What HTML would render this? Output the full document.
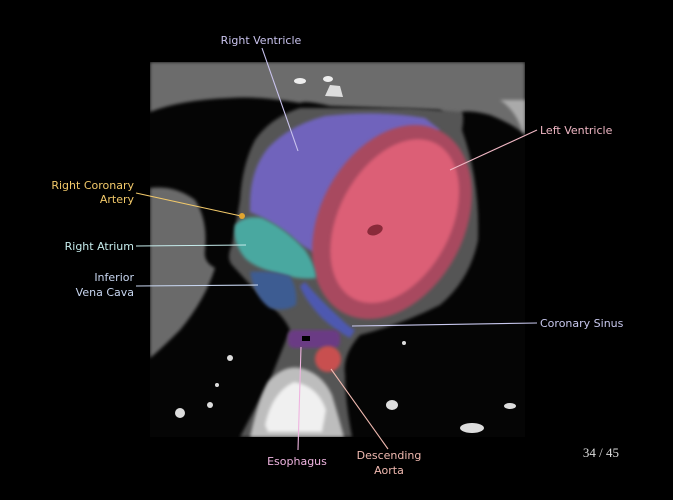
<!DOCTYPE html>
<html><head><meta charset="utf-8"><style>
html,body{margin:0;padding:0;background:#000;}
svg{display:block;}
text{font-family:"DejaVu Sans","Liberation Sans",sans-serif;font-size:11px;}
</style></head><body>
<svg width="673" height="500" viewBox="0 0 673 500" xmlns="http://www.w3.org/2000/svg">
<defs>
<filter id="b1" x="-10%" y="-10%" width="120%" height="120%"><feGaussianBlur stdDeviation="1.5"/></filter>
<clipPath id="ct"><rect x="150" y="62" width="375" height="375"/></clipPath>
</defs>
<rect width="673" height="500" fill="#000"/>
<g clip-path="url(#ct)">
<rect x="150" y="62" width="375" height="375" fill="#050505"/>
<path d="M150 62 H525 V135 Q515 125 490 115 Q470 110 462 112 L455 125 L440 110 L330 106 Q305 100 300 103 Q260 96 230 98 Q180 100 150 112 Z" fill="#6c6c6c" filter="url(#b1)"/>
<path d="M500 100 Q515 110 522 130 L525 135 V100 Z" fill="#aaa" filter="url(#b1)"/>
<ellipse cx="300" cy="81" rx="6" ry="3" fill="#eee"/>
<ellipse cx="328" cy="79" rx="5" ry="3" fill="#eee"/>
<path d="M325 96 L330 85 L340 86 L343 97 Z" fill="#ddd"/>
<path d="M150 188 Q175 185 195 200 Q208 220 205 250 Q203 262 215 268 Q205 300 180 330 Q160 350 150 358 Z" fill="#6a6a6a" filter="url(#b1)"/>
<path d="M300 108 Q270 118 255 140 Q242 165 240 200 Q236 225 232 245 Q226 258 232 265 Q250 285 270 305 Q285 318 290 330 L270 380 L240 437 H352 Q345 400 345 375 Q342 355 360 335 Q400 325 440 305 Q470 280 478 240 Q480 180 462 130 Q465 112 460 112 Q440 110 410 108 Z" fill="#555" filter="url(#b1)"/>
<path d="M250 205 Q250 170 268 148 Q290 125 325 116 Q380 110 425 118 L440 130 Q400 160 370 195 Q345 225 322 255 Q305 250 290 235 Q270 220 250 212 Z" fill="#6f63bc" filter="url(#b1)"/>
<g transform="rotate(28 392 222)">
<ellipse cx="392" cy="222" rx="72" ry="103" fill="#a84a5e" filter="url(#b1)"/>
<ellipse cx="394" cy="220" rx="56" ry="88" fill="#dc5e76" filter="url(#b1)"/>
</g>
<ellipse cx="375" cy="230" rx="8" ry="5" fill="#8a2a3a" transform="rotate(-20 375 230)"/>
<path d="M235 225 Q245 215 262 218 Q285 228 305 250 Q315 265 316 278 Q300 280 280 274 Q255 268 245 258 Q232 242 235 225 Z" fill="#4aa8a0" filter="url(#b1)"/>
<path d="M250 272 Q270 270 290 276 Q298 290 296 305 Q285 312 270 308 Q255 298 250 272 Z" fill="#3c5b92" filter="url(#b1)"/>
<path d="M305 282 Q320 300 340 318 Q350 328 355 330 L350 338 Q335 330 322 318 Q305 300 300 286 Z" fill="#4d58b0" filter="url(#b1)"/>
<rect x="288" y="330" width="52" height="18" rx="6" fill="#6a3a84" filter="url(#b1)"/>
<rect x="302" y="336" width="8" height="5" fill="#000"/>
<circle cx="328" cy="359" r="13" fill="#c84f50" filter="url(#b1)"/>
<path d="M250 437 Q258 400 268 382 Q283 365 300 368 Q322 373 332 395 Q338 415 344 437 Z" fill="#bdbdbd" filter="url(#b1)"/>
<path d="M265 425 Q272 392 294 382 Q318 386 326 410 L322 432 H268 Z" fill="#f0f0f0" filter="url(#b1)"/>
<g fill="#ddd">
<circle cx="230" cy="358" r="3"/><circle cx="210" cy="405" r="3"/><circle cx="180" cy="413" r="5"/>
<circle cx="217" cy="385" r="2"/><ellipse cx="392" cy="405" rx="6" ry="5"/><ellipse cx="510" cy="406" rx="6" ry="3"/>
<ellipse cx="472" cy="428" rx="12" ry="5"/><circle cx="404" cy="343" r="2"/>
</g>
</g>
<g stroke-width="1.1" fill="none">
<line x1="262" y1="48" x2="298" y2="151" stroke="#c9c3ee"/>
<line x1="537" y1="130" x2="450" y2="170" stroke="#f0b7c4"/>
<line x1="136" y1="193" x2="241" y2="216" stroke="#f2c96a"/>
<line x1="136" y1="246" x2="246" y2="245" stroke="#c6ecec"/>
<line x1="136" y1="286" x2="258" y2="285" stroke="#c8d6f0"/>
<line x1="352" y1="326" x2="537" y2="323" stroke="#c8c8ee"/>
<line x1="301" y1="347" x2="298" y2="450" stroke="#efb4e0"/>
<line x1="331" y1="369" x2="388" y2="449" stroke="#f0b9b0"/>
</g>
<circle cx="242" cy="216" r="3" fill="#e0a530"/>
<text x="261" y="44" text-anchor="middle" fill="#c9c3ee">Right Ventricle</text>
<text x="540" y="134" fill="#f0b7c4">Left Ventricle</text>
<text x="134" y="189" text-anchor="end" fill="#f2c96a">Right Coronary</text>
<text x="134" y="203" text-anchor="end" fill="#f2c96a">Artery</text>
<text x="134" y="250" text-anchor="end" fill="#c6ecec">Right Atrium</text>
<text x="134" y="281" text-anchor="end" fill="#c8d6f0">Inferior</text>
<text x="134" y="296" text-anchor="end" fill="#c8d6f0">Vena Cava</text>
<text x="540" y="327" fill="#c8c8ee">Coronary Sinus</text>
<text x="297" y="465" text-anchor="middle" fill="#efb4e0">Esophagus</text>
<text x="389" y="459" text-anchor="middle" fill="#f0b9b0">Descending</text>
<text x="389" y="474" text-anchor="middle" fill="#f0b9b0">Aorta</text>
<text x="619" y="457" text-anchor="end" fill="#ddd" style="font-family:'Liberation Serif',serif;font-size:13px">34 / 45</text>
</svg>
</body></html>
